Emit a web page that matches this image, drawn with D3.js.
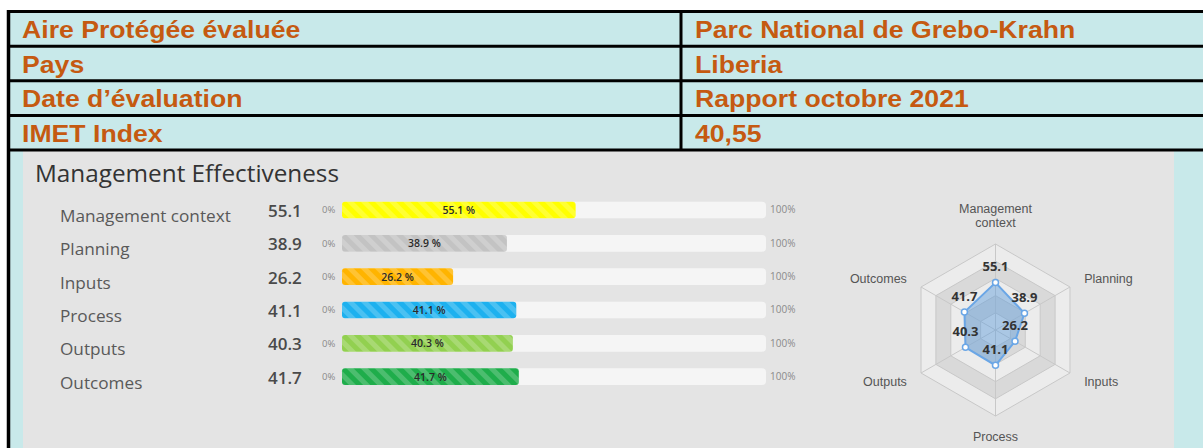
<!DOCTYPE html>
<html>
<head>
<meta charset="utf-8">
<script src="https://cdn.jsdelivr.net/npm/d3@7"></script>
<style>
  body { margin: 0; background: #ffffff; }
  svg { display: block; }
</style>
</head>
<body>
<svg id="chart" width="1203" height="448"></svg>
<script>
// Summary table
const infoLabels = ["Aire Protégée évaluée", "Pays", "Date d’évaluation", "IMET Index"];
const infoValues = ["Parc National de Grebo-Krahn", "Liberia", "Rapport octobre 2021", "40,55"];

// Management effectiveness scores (0–100)
const categories = ["Management context", "Planning", "Inputs", "Process", "Outputs", "Outcomes"];
const scores = [55.1, 38.9, 26.2, 41.1, 40.3, 41.7];
const barColors = ["#ffff00", "#c3c3c3", "#ffb400", "#1db1ef", "#92d050", "#1fad4b"];
const radarLabels = [["Management", "context"], ["Planning"], ["Inputs"], ["Process"], ["Outputs"], ["Outcomes"]];
const radarLevels = [20, 40, 60, 80, 100];

const svg = d3.select("#chart");
const W = 1203, H = 448;
const tableText = "#c55a11";
const cyan = "#c8e9ea";

// ---- table ----
const rowLine = d3.scaleLinear().domain([0, 4]).range([11.5, 150]);
const colX = 681;

svg.append("rect").attr("x", 9).attr("y", rowLine(0)).attr("width", W - 9).attr("height", H - rowLine(0)).attr("fill", cyan);
// chart panel
svg.append("rect").attr("x", 23).attr("y", rowLine(4)).attr("width", 1174 - 23).attr("height", H - rowLine(4)).attr("fill", "#e4e4e4");

const tbl = svg.append("g");
d3.range(5).forEach(i => {
  tbl.append("line").attr("x1", 7).attr("x2", W).attr("y1", rowLine(i)).attr("y2", rowLine(i))
    .attr("stroke", "#000").attr("stroke-width", 3);
});
tbl.append("line").attr("x1", colX).attr("x2", colX).attr("y1", rowLine(0)).attr("y2", rowLine(4))
  .attr("stroke", "#000").attr("stroke-width", 3);
tbl.append("line").attr("x1", 8.5).attr("x2", 8.5).attr("y1", rowLine(0) - 1.5).attr("y2", H)
  .attr("stroke", "#000").attr("stroke-width", 3.5);

function cellText(x, i, txt) {
  tbl.append("text")
    .attr("transform", `translate(${x},${rowLine(i + 1) - 8}) scale(1.11,1)`)
    .attr("font-family", "'Liberation Sans', Arial, sans-serif")
    .attr("font-weight", "bold").attr("font-size", 24)
    .attr("fill", tableText).text(txt);
}
infoLabels.forEach((t, i) => cellText(22, i, t));
infoValues.forEach((t, i) => cellText(695, i, t));

// ---- bars ----
const font = "'Open Sans', 'Noto Sans', sans-serif";
const defs = svg.append("defs");
defs.append("pattern").attr("id", "stripes").attr("patternUnits", "userSpaceOnUse")
  .attr("width", 10).attr("height", 10).attr("patternTransform", "rotate(45)")
  .append("rect").attr("width", 10).attr("height", 5).attr("fill", "rgba(255,255,255,0.2)");

svg.append("text").attr("x", 35).attr("y", 182).attr("font-family", font).attr("font-size", 24.3)
  .attr("fill", "#333").text("Management Effectiveness");

const y = d3.scaleBand().domain(categories).range([193.3, 393.3]).paddingInner(0.5).paddingOuter(0.25);
const x = d3.scaleLinear().domain([0, 100]).range([342, 766]);

const rows = svg.append("g").selectAll("g").data(categories).join("g")
  .attr("transform", d => `translate(0,${y(d)})`);
const bh = y.bandwidth();

rows.append("text").attr("x", 60).attr("y", bh / 2 + 12).attr("font-family", font).attr("font-size", 17.2)
  .attr("fill", "#595959").text(d => d);
rows.append("text").attr("x", 268).attr("y", bh / 2 + 7).attr("font-family", font).attr("font-size", 17)
  .attr("font-weight", 600).attr("fill", "#4a4a4a").text((d, i) => scores[i].toFixed(1));
rows.append("text").attr("x", 322).attr("y", bh / 2 + 3.5).attr("font-family", font).attr("font-size", 9.5)
  .attr("fill", "#8a8a8a").text("0%");
rows.append("text").attr("x", 770).attr("y", bh / 2 + 3.5).attr("font-family", font).attr("font-size", 10)
  .attr("fill", "#8a8a8a").text("100%");
rows.append("rect").attr("x", x(0)).attr("width", x(100) - x(0)).attr("height", bh).attr("rx", 4)
  .attr("fill", "#f5f5f5");
rows.append("rect").attr("x", x(0)).attr("width", (d, i) => x(scores[i]) - x(0)).attr("height", bh).attr("rx", 3)
  .attr("fill", (d, i) => barColors[i]);
rows.append("rect").attr("x", x(0)).attr("width", (d, i) => x(scores[i]) - x(0)).attr("height", bh).attr("rx", 3)
  .attr("fill", "url(#stripes)");
rows.append("text").attr("x", (d, i) => (x(0) + x(scores[i])) / 2).attr("y", bh / 2 + 4)
  .attr("text-anchor", "middle").attr("font-family", font).attr("font-size", 10.5).attr("font-weight", 600)
  .attr("fill", "#2a2a2a").text((d, i) => scores[i].toFixed(1) + " %");

// ---- radar ----
const cx = 995.5, cy = 330;
const r = d3.scaleLinear().domain([0, 100]).range([0, 86]);
const angle = i => (i * 2 * Math.PI) / categories.length;
const pt = (i, v) => [cx + r(v) * Math.sin(angle(i)), cy - r(v) * Math.cos(angle(i))];
const radar = svg.append("g");
const hex = v => categories.map((c, i) => pt(i, v));
const line = d3.line().curve(d3.curveLinearClosed);

radarLevels.slice().reverse().forEach((lv, k) => {
  radar.append("path").attr("d", line(hex(lv)))
    .attr("fill", k % 2 === 0 ? "#ececec" : "#d9d9d9")
    .attr("stroke", "#c8c8c8").attr("stroke-width", 1);
});
categories.forEach((c, i) => {
  const [px, py] = pt(i, 100);
  radar.append("line").attr("x1", cx).attr("y1", cy).attr("x2", px).attr("y2", py)
    .attr("stroke", "#c8c8c8").attr("stroke-width", 1);
});

radar.append("path").attr("d", line(scores.map((s, i) => pt(i, s))))
  .attr("fill", "rgba(91,155,220,0.45)").attr("stroke", "#6aa6e6").attr("stroke-width", 2);
scores.forEach((s, i) => {
  const [px, py] = pt(i, s);
  radar.append("circle").attr("cx", px).attr("cy", py).attr("r", 3)
    .attr("fill", "#fff").attr("stroke", "#6aa6e6").attr("stroke-width", 1.5);
  radar.append("text").attr("x", px).attr("y", py - 11.5).attr("text-anchor", "middle")
    .attr("font-family", font).attr("font-size", 13).attr("font-weight", "bold").attr("fill", "#333")
    .text(s.toFixed(1));
});

// axis names around the web
const axisFont = "'Liberation Sans', Arial, sans-serif";
radarLabels.forEach((lines, i) => {
  const [lx, ly] = pt(i, 119);
  const sx = Math.sin(angle(i));
  const anchor = Math.abs(sx) < 0.01 ? "middle" : (sx > 0 ? "start" : "end");
  const label = (ty, txt) => radar.append("text").attr("font-family", axisFont).attr("font-size", 12.5)
    .attr("fill", "#555").attr("text-anchor", anchor).attr("x", lx).attr("y", ty).text(txt);
  if (i === 0) {
    lines.forEach((l, j) => label(ly - 0.5 - (lines.length - 1 - j) * 14, l));
  } else if (Math.abs(sx) < 0.01) {
    label(ly + 9, lines[0]);
  } else {
    label(ly + 4.5, lines[0]);
  }
});
</script>
</body>
</html>
